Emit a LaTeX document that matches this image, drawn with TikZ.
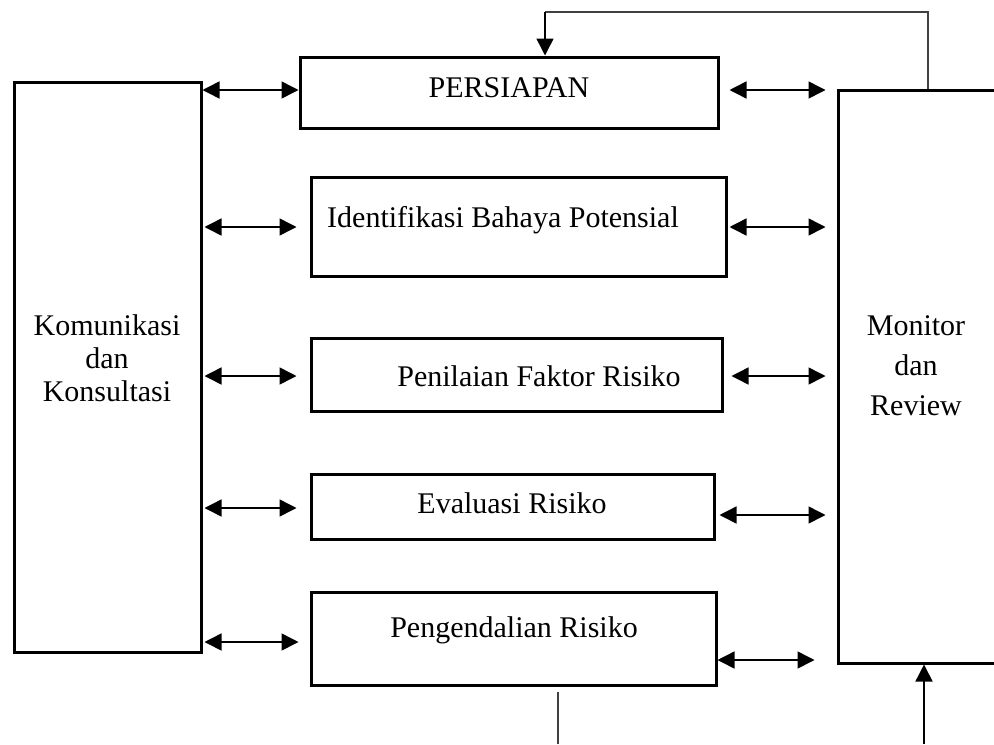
\documentclass[tikz,border=0pt]{standalone}
\usepackage{fontspec}
\setmainfont{Liberation Serif}
\usetikzlibrary{arrows.meta}
\begin{document}
\begin{tikzpicture}[x=0.5pt,y=-0.5pt,
  box/.style={draw=black,line width=1.5pt,rectangle,inner sep=0pt},
  lbl/.style={font=\fontsize{15}{16.5}\selectfont,inner sep=0pt,align=center},
  dbl/.style={line width=0.75pt,{Triangle[length=8.5pt,width=8.5pt]}-{Triangle[length=8.5pt,width=8.5pt]}},
  one/.style={line width=0.75pt,-{Triangle[length=8.5pt,width=8.5pt]}},
  plain/.style={line width=0.75pt,draw=black!75}]
\clip (0,0) rectangle (994,744);
\fill[white] (0,0) rectangle (994,744);
% boxes
\node[box,minimum width=93.5pt,minimum height=285pt] (kom) at (107.5,367) {};
\node[box,minimum width=209pt,minimum height=35.5pt] (per) at (509,92.5) {};
\node[box,minimum width=207.5pt,minimum height=49.5pt] (idf) at (518.5,226.5) {};
\node[box,minimum width=205.5pt,minimum height=36.5pt] (pen) at (516.5,374.5) {};
\node[box,minimum width=201.5pt,minimum height=32.5pt] (eva) at (512.5,506.5) {};
\node[box,minimum width=202.5pt,minimum height=46.5pt] (pgd) at (513.5,638.5) {};
\node[box,minimum width=100pt,minimum height=286.5pt] (mon) at (938,376.5) {};
% labels
\node[lbl] (komt) at (107,358) {Komunikasi\\dan\\Konsultasi};
\node[lbl,font=\fontsize{15}{20}\selectfont] (mont) at (916,366) {Monitor\\dan\\Review};
\node[lbl] (pert) at (509,88) {PERSIAPAN};
\node[lbl] (idft) at (503,220) {Identifikasi Bahaya Potensial};
\node[lbl] (pent) at (539,376) {Penilaian Faktor Risiko};
\node[lbl] (evat) at (512,503) {Evaluasi Risiko};
\node[lbl] (pgdt) at (514,630) {Pengendalian Risiko};
% left arrows
\draw[dbl] (kom.east |- 0,90) -- (per.west |- 0,90);
\draw[dbl,shorten <=1pt,shorten >=6.5pt] (kom.east |- 0,227) -- (idf.west |- 0,227);
\draw[dbl,shorten <=1pt,shorten >=6.5pt] (kom.east |- 0,376) -- (pen.west |- 0,376);
\draw[dbl,shorten <=1pt,shorten >=6.5pt] (kom.east |- 0,508) -- (eva.west |- 0,508);
\draw[dbl,shorten <=1pt,shorten >=5.5pt] (kom.east |- 0,642) -- (pgd.west |- 0,642);
% right arrows
\draw[dbl,shorten <=5pt,shorten >=5.5pt] (per.east |- 0,90) -- (mon.west |- 0,90);
\draw[dbl,shorten <=1pt,shorten >=5.5pt] (idf.east |- 0,227) -- (mon.west |- 0,227);
\draw[dbl,shorten <=4pt,shorten >=5.5pt] (pen.east |- 0,376) -- (mon.west |- 0,376);
\draw[dbl,shorten <=2pt,shorten >=5.5pt] (eva.east |- 0,515) -- (mon.west |- 0,515);
\draw[dbl,shorten <=0pt,shorten >=11pt] (pgd.east |- 0,660) -- (mon.west |- 0,660);
% feedback lines
\coordinate (tr) at (928,12);
\coordinate (tl) at (545,12);
\draw[plain] (mon.north -| tr) -- (tr) -- (tl);
\draw[one] (tl) -- (per.north -| tl);
\coordinate (bl) at (558,744);
\draw[plain] (bl) -- (558,692);
\coordinate (br) at (924,744);
\draw[one] (br) -- (mon.south -| br);
\end{tikzpicture}
\end{document}
